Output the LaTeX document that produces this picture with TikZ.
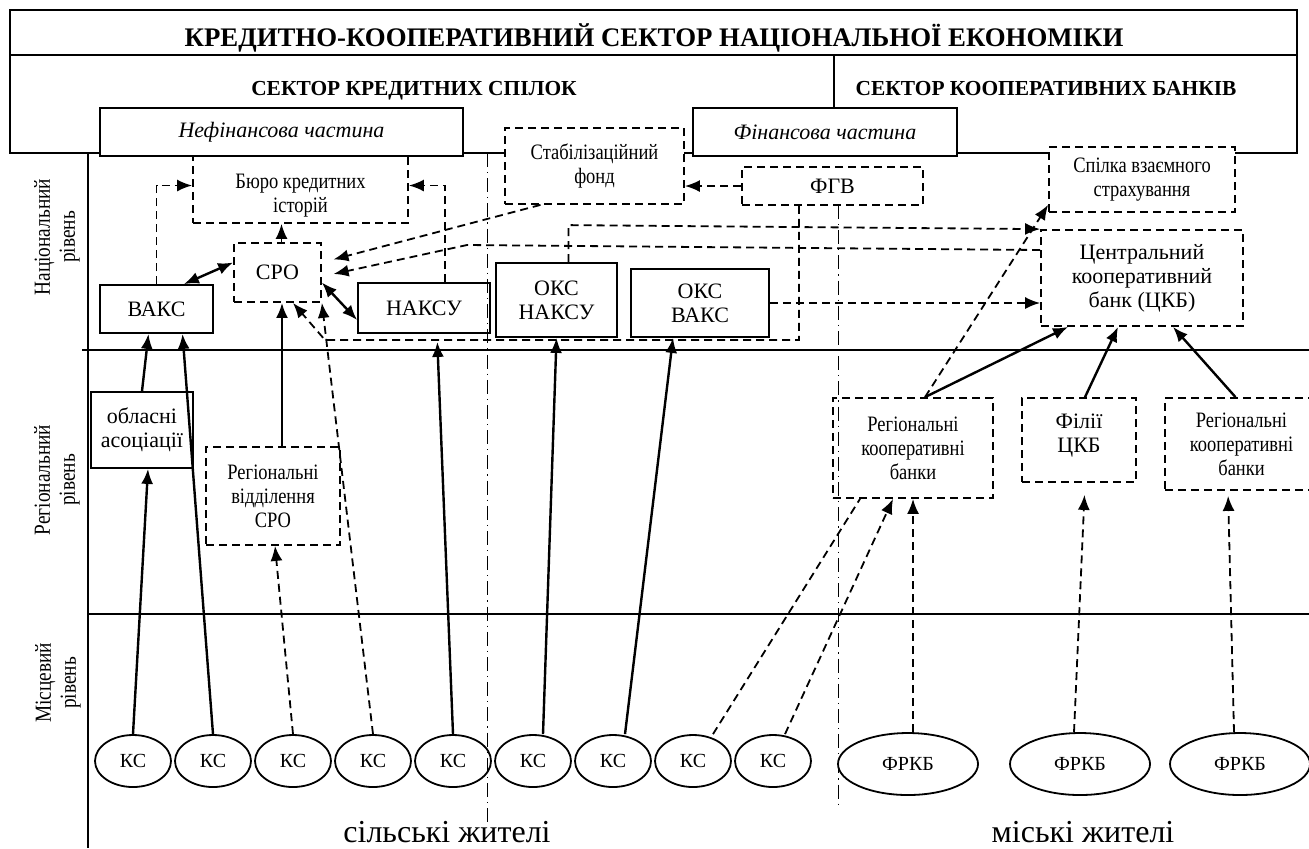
\documentclass[tikz,border=0pt]{standalone}
\usepackage{fontspec}
\setmainfont{Liberation Serif}
\newfontfamily\condfont[FakeStretch=0.84]{Liberation Serif}
\usetikzlibrary{arrows.meta,shapes.geometric}

\begin{document}
\begin{tikzpicture}[x = 0.5pt, y = -0.5pt,
	wh/.style 2 args = {minimum width = #1, minimum height = #2},
	box/.style = {draw, line width = 0.9pt, inner sep = 0pt, align = center, font = \fontsize{11}{12}\selectfont},
	dbox/.style = {box, dash pattern = on 4pt off 2.5pt},
	cbox/.style = {dbox, font = \condfont\fontsize{11}{12}\selectfont},
	inside/.style = {label distance = 0pt, inner sep = 0pt, align = center, yshift = #1},
	link/.style = {line width = 1.2pt, -{Latex[length = 7.5pt, width = 6pt]}},
	twoway/.style = {line width = 1.2pt, {Latex[length = 7.5pt, width = 6pt]}-{Latex[length = 7.5pt, width = 6pt]}},
	dlink/.style = {line width = 0.9pt, dash pattern = on 4pt off 2.5pt, -{Latex[length = 7.5pt, width = 6pt]}},
	dline/.style = {line width = 0.9pt, dash pattern = on 4pt off 2.5pt},
	ks/.style = {ellipse, draw, line width = 0.9pt, inner sep = 0pt, minimum width = 38pt, minimum height = 26pt, font = \fontsize{10}{12}\selectfont},
	frkb/.style = {ks, minimum width = 70pt, minimum height = 31pt},
	level/.style = {rotate = 90, align = center, font = \condfont\fontsize{11.5}{12.5}\selectfont},
	divider/.style = {line width = 0.5pt, dash pattern = on 7pt off 2.5pt on 0.6pt off 2.5pt},
	frame/.style = {line width = 1pt}]

	\useasboundingbox (0,0) rectangle (1309,848);
	\clip (0,0) rectangle (1309,848);

	% header
	\draw [frame] (10,10) rectangle (1297,153);
	\draw [frame] (10,55) -- (1297,55);
	\draw [frame] (834,55) -- (834,108);
	\node [anchor = base, font = \bfseries\fontsize{13.4}{14}\selectfont] (title) at (654,46) {КРЕДИТНО-КООПЕРАТИВНИЙ СЕКТОР НАЦІОНАЛЬНОЇ ЕКОНОМІКИ};
	\node [anchor = base, font = \bfseries\fontsize{10.7}{12}\selectfont] (cu) at (414,95) {СЕКТОР КРЕДИТНИХ СПІЛОК};
	\node [anchor = base, font = \bfseries\fontsize{10.7}{12}\selectfont] (cb) at (1046,95) {СЕКТОР КООПЕРАТИВНИХ БАНКІВ};

	\node [level] (nat) at (57,237) {Національний\\рівень};
	\node [level] (reg) at (57,480) {Регіональний\\рівень};
	\node [level] (loc) at (58,683) {Місцевий\\рівень};

	\draw [frame] (88,153) -- (88,848);
	\draw [frame] (82,350) -- (1309,350);
	\draw [frame] (88,614) -- (1309,614);
	\draw [divider] (487,153) -- (487,825);
	\draw [divider] (838,205) -- (838,805);

	\node [box, fill = white, wh = {181.5pt}{24pt}, font = \itshape\fontsize{11}{12}\selectfont] (nefin) at (281.5,132) {Нефінансова частина};
	\node [box, fill = white, wh = {132pt}{24pt}, font = \itshape\fontsize{11}{12}\selectfont] (fin) at (825,132) {Фінансова частина};
	\node [cbox, fill = white, wh = {89.5pt}{38pt}] (stab) at (594.5,166) {Стабілізаційний\\фонд};
	\node [cbox, fill = white, wh = {93pt}{32.5pt}] (spilka) at (1142,179.5) {Спілка взаємного\\страхування};
	\node [cbox, wh = {107.5pt}{33.5pt},
		label = {[inside = -3pt, font = \condfont\fontsize{11}{12}\selectfont]center:Бюро кредитних\\історій}] (buro) at (300.5,189.5) {};
	\node [dbox, wh = {90.5pt}{19pt}] (fgv) at (832.5,186) {ФГВ};
	\node [dbox, wh = {101pt}{48pt}] (ckb) at (1142,278) {Центральний\\кооперативний\\банк (ЦКБ)};
	\node [dbox, wh = {43.5pt}{29.5pt}] (sro) at (277.5,272.5) {СРО};
	\node [box, wh = {56.5pt}{24pt}] (vaks) at (156.5,309) {ВАКС};
	\node [box, wh = {66pt}{25pt}] (naksu) at (424,308) {НАКСУ};
	\node [box, wh = {60.5pt}{37pt}] (oksn) at (556.5,300) {ОКС\\НАКСУ};
	\node [box, wh = {69pt}{34pt}] (oksv) at (700,303) {ОКС\\ВАКС};

	\node [box, wh = {51pt}{38pt}] (obl) at (142,430) {обласні\\асоціації};
	\node [cbox, wh = {67pt}{49pt}] (rvsro) at (273,496) {Регіональні\\відділення\\СРО};
	\node [cbox, wh = {80pt}{50pt}] (rkb1) at (913,448) {Регіональні\\кооперативні\\банки};
	\node [dbox, wh = {57pt}{42pt},
		label = {[inside = 2pt, font = \fontsize{11}{12}\selectfont]center:Філії\\ЦКБ}] (filii) at (1079,440) {};
	\node [cbox, wh = {76.5pt}{46pt}] (rkb2) at (1241.5,444) {Регіональні\\кооперативні\\банки};

	\foreach \i in {1,...,9}
		\node [ks] (ks\i) at ({53+80*\i},761) {КС};
	\node [frkb] (frkb1) at (908,764) {ФРКБ};
	\node [frkb] (frkb2) at (1080,764) {ФРКБ};
	\node [frkb] (frkb3) at (1240,764) {ФРКБ};

	\node [inner sep = 0pt, font = \fontsize{16}{18}\selectfont] (rural) at (447,832) {сільські жителі};
	\node [inner sep = 0pt, font = \fontsize{16}{18}\selectfont] (urban) at (1083,832) {міські жителі};

	% national level
	\coordinate (srotop) at ([xshift = 2pt]sro.north);
	\coordinate (naksutop) at ([xshift = 10.5pt]naksu.north);
	\coordinate (oksntop) at ([xshift = 6pt]oksn.north);
	\coordinate (fgvbot) at ([xshift = -16.75pt]fgv.south);
	\coordinate (loopc) at (325,340);
	\draw [dlink] (vaks.north) |- ([yshift = 2pt]buro.west);
	\draw [dlink] (naksutop) |- ([yshift = 2pt]buro.east);
	\draw [dlink] (srotop) -- (srotop |- buro.south);
	\draw [twoway] ([xshift = -15pt]vaks.north east) -- ([yshift = 5pt]sro.west);
	\draw [twoway] ([yshift = -5pt]sro.east) -- ([yshift = -6pt]naksu.west);
	\draw [dlink, shorten >= 6pt] ([xshift = -27pt]stab.south) -- ([yshift = 5pt]sro.east);
	\draw [dlink, shorten >= 6pt] ([yshift = 14pt]ckb.west) -- (467,245) -- ([yshift = -2pt]sro.east);
	\draw [dlink] (fgv.west) -- (fgv.west -| stab.east);
	\draw [dlink] (fgvbot) |- (loopc) -- ([xshift = 7.75pt]sro.south);
	\draw [dlink] (oksntop) -- ++(0,-37) -- (ckb.north west);
	\draw [dlink] (oksv.east) -- (oksv.east -| ckb.west);

	% regional level
	\coordinate (rvtop) at ([xshift = 4.5pt]rvsro.north);
	\draw [link] (obl.north) -- ([xshift = -4pt]vaks.south);
	\draw [link] (rvtop) -- (rvtop |- sro.south);
	\draw [link] ([xshift = 6pt]rkb1.north) -- ([xshift = -37pt]ckb.south);
	\draw [link] ([xshift = 3pt]filii.north) -- ([xshift = -12pt]ckb.south);
	\draw [link] ([xshift = -3pt]rkb2.north) -- ([xshift = 15.5pt]ckb.south);
	\draw [dlink] ([xshift = 6pt]rkb1.north) -- ([yshift = 4pt]spilka.south west);

	% local level
	\draw [link] (ks1.north) -- ([xshift = 3pt]obl.south);
	\draw [link] (ks2.north) -- ([xshift = 13pt]vaks.south);
	\draw [dlink] (ks3.north) -- ([xshift = 1pt]rvsro.south);
	\draw [dlink] (ks4.north) -- (sro.south east);
	\draw [link, shorten >= 4pt] (ks5.north) -- ([xshift = 6.5pt]naksu.south);
	\draw [link] ([xshift = 5pt]ks6.north) -- (oksn.south);
	\draw [link] ([xshift = 6pt]ks7.north) -- ([xshift = -13.5pt]oksv.south);
	\draw [dline] ([xshift = 10pt]ks8.north) -- ([xshift = -26.5pt]rkb1.south);
	\draw [dlink] ([xshift = 6pt]ks9.north) -- ([xshift = -10pt]rkb1.south);
	\draw [dlink] ([xshift = 2.5pt]frkb1.north) -- (rkb1.south);
	\draw [dlink, shorten >= 6pt] ([xshift = -3pt]frkb2.north) -- ([xshift = 3pt]filii.south);
	\draw [dlink, shorten >= 2.5pt] ([xshift = -3pt]frkb3.north) -- ([xshift = -6.75pt]rkb2.south);

\end{tikzpicture}
\end{document}
